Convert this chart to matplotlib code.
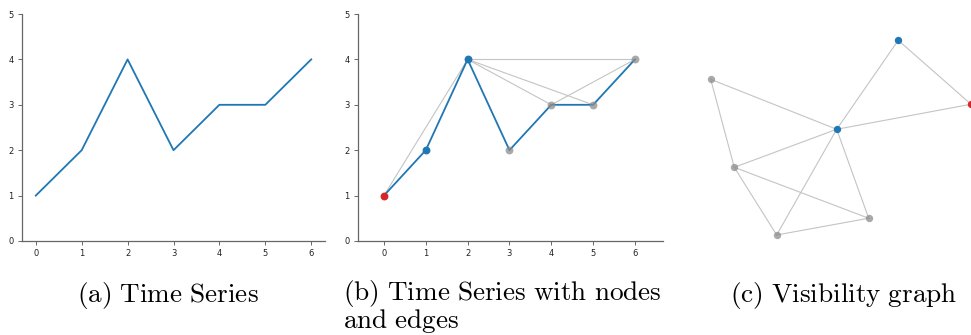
import matplotlib
matplotlib.use("Agg")
import matplotlib.pyplot as plt

plt.rcParams['mathtext.fontset'] = 'cm'

# time series
t = [0, 1, 2, 3, 4, 5, 6]
values = [1, 2, 4, 2, 3, 3, 4]

# visibility edges (node index pairs); consecutive pairs are the series itself
vis_edges = [(0, 1), (0, 2), (1, 2), (2, 3), (2, 4), (2, 5), (2, 6),
             (3, 4), (4, 5), (4, 6), (5, 6)]

# node colours: source node red, its neighbours blue, the rest grey
node_colors = ['#d62728', '#1f77b4', '#1f77b4', '#8c8c8c', '#8c8c8c', '#8c8c8c', '#8c8c8c']
node_alpha = [1, 1, 1, 0.75, 0.75, 0.75, 0.75]

# graph layout positions for panel (c)
layout_x = [1.0, 0.441, -0.032, -1.0, -0.819, -0.493, 0.214]
layout_y = [0.343, 1.0, 0.086, 0.599, -0.305, -1.0, -0.828]

caption_a = r'$\mathrm{(a)\ Time\ Series}$'
caption_b = r'$\mathrm{(b)\ Time\ Series\ with\ nodes}$' + '\n' + r'$\mathrm{and\ edges}$'
caption_c = r'$\mathrm{(c)\ Visibility\ graph}$'

edge_grey = '#c4c4c4'
spine_grey = '#666666'

fig = plt.figure(figsize=(9.71, 3.35), dpi=100)
ax_a = fig.add_axes([22 / 971, 94 / 335, 303 / 971, 227 / 335])
ax_b = fig.add_axes([358 / 971, 94 / 335, 305 / 971, 227 / 335])
ax_c = fig.add_axes([680 / 971, 75 / 335, 291 / 971, 260 / 335])


def style_axes(ax):
    for side in ('top', 'right'):
        ax.spines[side].set_visible(False)
    for side in ('left', 'bottom'):
        ax.spines[side].set_color(spine_grey)
        ax.spines[side].set_linewidth(0.9)
    ax.tick_params(labelsize=6, length=3, width=0.7, color=spine_grey,
                   labelcolor='#222222', pad=3)
    ax.set_ylim(0, 5)
    ax.set_xticks(t)
    ax.set_yticks(range(6))


# (a) plain series
ax_a.plot(t, values, color='#1f77b4', lw=1.3)
ax_a.set_xlim(-0.3, 6.3)
style_axes(ax_a)

# (b) series with visibility edges
for i, j in vis_edges:
    if j - i == 1:
        continue
    ax_b.plot([t[i], t[j]], [values[i], values[j]], color=edge_grey, lw=0.8, zorder=1)
ax_b.plot(t, values, color='#1f77b4', lw=1.3, zorder=2)
for k in range(len(t)):
    ax_b.scatter(t[k], values[k], s=32, color=node_colors[k], alpha=node_alpha[k],
                 linewidths=0, zorder=3)
ax_b.set_xlim(-0.62, 6.67)
style_axes(ax_b)

# (c) visibility graph
for i, j in vis_edges:
    ax_c.plot([layout_x[i], layout_x[j]], [layout_y[i], layout_y[j]],
              color=edge_grey, lw=0.8, zorder=1)
for k in range(len(t)):
    ax_c.scatter(layout_x[k], layout_y[k], s=28, color=node_colors[k], alpha=node_alpha[k],
                 linewidths=0, zorder=3)
ax_c.set_xlim(-1.236, 1.0)
ax_c.set_ylim(-1.257, 1.414)
ax_c.axis('off')

# captions (multi-line text is anchored on its last baseline)
cap_size = 19.6
fig.text(77 / 971, 1 - 302 / 335, caption_a, fontsize=cap_size, va='baseline', ha='left')
fig.text(343 / 971, 1 - 328 / 335, caption_b, fontsize=cap_size, va='baseline', ha='left',
         linespacing=0.91)
fig.text(730 / 971, 1 - 302 / 335, caption_c, fontsize=cap_size, va='baseline', ha='left')

fig.savefig('out.png', dpi=100)
